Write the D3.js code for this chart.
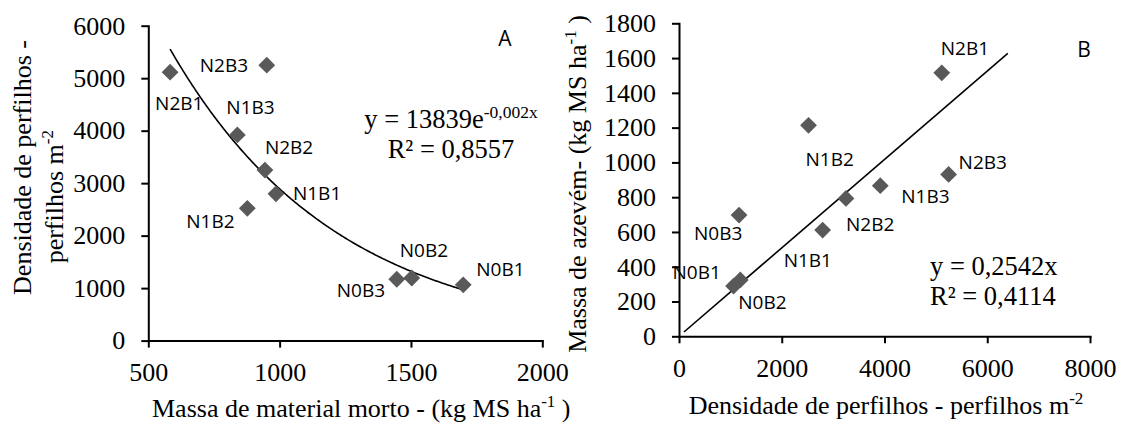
<!DOCTYPE html>
<html>
  <head>
    <meta charset="utf-8" />
    <title>Perfilhos, material morto e azevém</title>
    <script src="https://d3js.org/d3.v7.min.js"></script>
    <style>
      body { margin: 0; background: #fff; }
      svg { display: block; background: #fff; }
      .serif { font-family: "Liberation Serif", "Times New Roman", serif; fill: #000; }
      .lbl { font-family: "Open Sans", "Noto Sans", sans-serif; font-size: 19px; fill: #000; }
      .tick text { font-family: "Liberation Serif", "Times New Roman", serif; font-size: 26px; fill: #000; }
      .domain, .tick line { stroke: #000; stroke-width: 2px; }
    </style>
  </head>
  <body>
    <svg width="1122" height="423"></svg>
    <script>
      // treatments and values
      const treatments = ["N2B1", "N2B3", "N1B3", "N2B2", "N1B1", "N1B2", "N0B3", "N0B2", "N0B1"];
      const deadMass = [583, 951, 839, 944, 986, 877, 1446, 1503, 1699];        // kg MS ha-1
      const tillerDensity = [5115, 5248, 3918, 3250, 2796, 2521, 1169, 1193, 1062]; // perfilhos m-2
      const ryegrassMass = [1515, 931, 866, 793, 611, 1213, 697, 324, 289];     // kg MS ha-1

      const xTicksA = [500, 1000, 1500, 2000];
      const yTicksA = [0, 1000, 2000, 3000, 4000, 5000, 6000];
      const xTicksB = [0, 2000, 4000, 6000, 8000];
      const yTicksB = [0, 200, 400, 600, 800, 1000, 1200, 1400, 1600, 1800];

      // trend lines (Excel fits)
      const expA = 13839, expB = -0.001566, trendARange = [583, 1699];
      const slopeB = 0.2542, trendBRange = [97, 6400];

      // label offsets from marker centre (px)
      const offA = {
        N2B1: [-15, 38], N2B3: [-67, 7], N1B3: [-11, -21], N2B2: [0, -16], N1B1: [17, 6],
        N1B2: [-61, 20], N0B3: [-60, 18], N0B2: [-12, -21], N0B1: [13, -9]
      };
      const offB = {
        N2B1: [-1, -18], N2B3: [10, -5], N1B3: [21, 17], N2B2: [0, 33], N1B1: [-39, 37],
        N1B2: [-3, 41], N0B3: [-45, 25], N0B2: [-2, 29], N0B1: [-61, -7]
      };

      const svg = d3.select("svg");

      const xA = d3.scaleLinear().domain([500, 2000]).range([148.3, 542.3]);
      const yA = d3.scaleLinear().domain([0, 6000]).range([340.6, 25.7]);
      const xB = d3.scaleLinear().domain([0, 8000]).range([679, 1090]);
      const yB = d3.scaleLinear().domain([0, 1800]).range([336.3, 23.3]);

      function axes(x, y, xt, yt) {
        svg.append("g")
          .attr("transform", `translate(0,${y.range()[0]})`)
          .call(d3.axisBottom(x).tickValues(xt).tickFormat(d3.format("d"))
            .tickSize(7).tickSizeOuter(0).tickPadding(15));
        svg.append("g")
          .attr("transform", `translate(${x.range()[0]},0)`)
          .call(d3.axisLeft(y).tickValues(yt).tickFormat(d3.format("d"))
            .tickSize(7).tickSizeOuter(0).tickPadding(16));
      }
      axes(xA, yA, xTicksA, yTicksA);
      axes(xB, yB, xTicksB, yTicksB);
      svg.selectAll(".domain").attr("stroke-linecap", "square");

      const diamond = d3.symbol().type(d3.symbolDiamond2).size(180);

      function points(xs, ys, x, y, off) {
        const g = svg.append("g");
        g.selectAll("path.pt").data(treatments).join("path")
          .attr("class", "pt")
          .attr("d", diamond)
          .attr("fill", "#595959")
          .attr("transform", (d, i) => `translate(${x(xs[i])},${y(ys[i])})`);
        g.selectAll("text").data(treatments).join("text")
          .attr("class", "lbl")
          .attr("x", (d, i) => x(xs[i]) + off[d][0])
          .attr("y", (d, i) => y(ys[i]) + off[d][1])
          .text(d => d);
      }

      // panel A trend curve
      const curveX = d3.range(trendARange[0], trendARange[1] + 1, 5);
      svg.append("path")
        .datum(curveX)
        .attr("fill", "none").attr("stroke", "#000").attr("stroke-width", 1.6)
        .attr("d", d3.line().x(d => xA(d)).y(d => yA(expA * Math.exp(expB * d))));

      // panel B trend line
      svg.append("path")
        .datum(trendBRange)
        .attr("fill", "none").attr("stroke", "#000").attr("stroke-width", 1.6)
        .attr("d", d3.line().x(d => xB(d)).y(d => yB(slopeB * d)));

      points(deadMass, tillerDensity, xA, yA, offA);
      points(tillerDensity, ryegrassMass, xB, yB, offB);

      // panel letters
      svg.append("text").attr("class", "lbl").attr("x", 505).attr("y", 46)
        .attr("text-anchor", "middle").style("font-size", "21px").text("A");
      svg.append("text").attr("class", "lbl").attr("x", 1084).attr("y", 57)
        .attr("text-anchor", "middle").style("font-size", "21px").text("B");

      // equations
      const eqA1 = svg.append("text").attr("class", "serif").attr("x", 451).attr("y", 128)
        .attr("text-anchor", "middle").style("font-size", "26.5px");
      eqA1.append("tspan").text("y = 13839e");
      eqA1.append("tspan").attr("dy", -10).style("font-size", "17.5px").text("-0,002x");
      svg.append("text").attr("class", "serif").attr("x", 451).attr("y", 158)
        .attr("text-anchor", "middle").style("font-size", "26.5px").text("R² = 0,8557");

      svg.append("text").attr("class", "serif").attr("x", 930).attr("y", 275)
        .style("font-size", "26.5px").text("y = 0,2542x");
      svg.append("text").attr("class", "serif").attr("x", 930).attr("y", 305)
        .style("font-size", "26.5px").text("R² = 0,4114");

      // axis titles
      const tA = svg.append("text").attr("class", "serif").attr("x", 152).attr("y", 417)
        .style("font-size", "26px");
      tA.append("tspan").text("Massa de material morto - (kg MS ha");
      tA.append("tspan").attr("dy", -10).style("font-size", "17px").text("-1");
      tA.append("tspan").attr("dy", 10).text(" )");

      const tB = svg.append("text").attr("class", "serif").attr("x", 886).attr("y", 414)
        .attr("text-anchor", "middle").style("font-size", "26px");
      tB.append("tspan").text("Densidade de perfilhos - perfilhos m");
      tB.append("tspan").attr("dy", -10).style("font-size", "17px").text("-2");

      svg.append("text").attr("class", "serif")
        .attr("transform", "translate(31,167.5) rotate(-90)")
        .attr("text-anchor", "middle").style("font-size", "26px")
        .text("Densidade de perfilhos -");
      const yA2 = svg.append("text").attr("class", "serif")
        .attr("transform", "translate(63.3,196.7) rotate(-90)")
        .attr("text-anchor", "middle").style("font-size", "26px");
      yA2.append("tspan").text("perfilhos m");
      yA2.append("tspan").attr("dy", -10).style("font-size", "17px").text("-2");

      const yB1 = svg.append("text").attr("class", "serif")
        .attr("transform", "translate(585.7,184) rotate(-90)")
        .attr("text-anchor", "middle").style("font-size", "26px");
      yB1.append("tspan").text("Massa de azevém- (kg MS ha");
      yB1.append("tspan").attr("dy", -10).style("font-size", "17px").text("-1");
      yB1.append("tspan").attr("dy", 10).text(" )");
    </script>
  </body>
</html>
